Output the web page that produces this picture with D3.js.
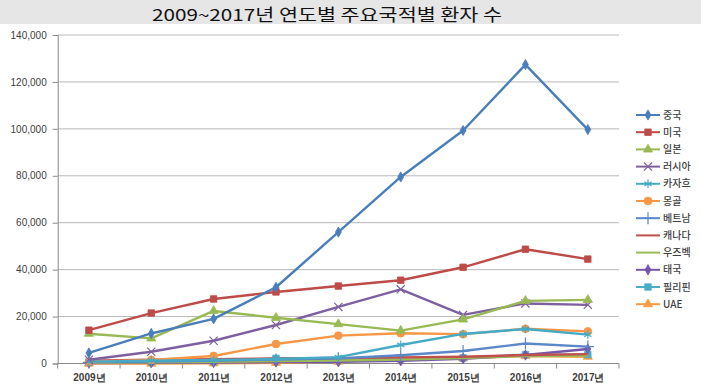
<!DOCTYPE html>
<html><head><meta charset="utf-8">
<script src="https://cdn.jsdelivr.net/npm/d3@7"></script>
<style>
html,body{margin:0;padding:0;background:#fff;}
svg{display:block;font-family:"Noto Sans CJK KR","Noto Sans",sans-serif;}
</style></head>
<body><svg id="c" width="701" height="389"></svg>
<script>
const title = "2009~2017년 연도별 주요국적별 환자 수";
const years = ["2009년","2010년","2011년","2012년","2013년","2014년","2015년","2016년","2017년"];
const yTicks = [0,20000,40000,60000,80000,100000,120000,140000];
const seriesNames = ["중국","미국","일본","러시아","카자흐","몽골","베트남","캐나다","우즈벡","태국","필리핀","UAE"];
const china      = [4500,12800,19000,32500,56000,79500,99300,127400,99700];
const usa        = [14200,21500,27500,30500,33000,35500,41000,48700,44500];
const japan      = [12700,10700,22400,19500,16800,14000,18800,26700,27100];
const russia     = [1600,5000,9700,16400,24100,31600,20700,25600,25000];
const kazakh     = [800,1200,1500,1900,2700,7900,12600,14700,12300];
const mongolia   = [800,1500,3200,8300,11900,12900,12500,14800,13700];
const vietnam    = [500,800,1200,1700,2200,3500,5300,8500,7200];
const canada     = [1200,1600,1800,2100,2300,2600,2900,3600,4000];
const uzbek      = [300,500,700,1000,1300,1700,2300,3200,3400];
const thailand   = [200,300,400,600,700,1100,2000,3600,6200];
const philippines= [600,800,900,2200,1600,2000,2400,3800,3800];
const uae        = [0,0,100,300,800,1800,2200,3200,2900];
const seriesValues = [china,usa,japan,russia,kazakh,mongolia,vietnam,canada,uzbek,thailand,philippines,uae];
const colors = ["#4A7EBB","#BE4B48","#98B954","#7D60A0","#46AAC5","#F79646","#5A88C8","#C0504D","#9BBB59","#7457A8","#4BACC6","#F59D45"];
const markers = ["diamond","square","triangle","x","asterisk","circle","plus",null,null,"diamond","square","triangle"];

const svg = d3.select("#c");
svg.append("rect").attr("x",0).attr("y",0).attr("width",701).attr("height",24).attr("fill","#e6e6e6");
svg.append("text").attr("x",327).attr("y",20.5).attr("text-anchor","middle")
  .attr("font-size",16.5).attr("fill","#111").attr("textLength",350).attr("lengthAdjust","spacingAndGlyphs").text(title);

const pL=57.7, pR=619, pT=35, pB=363.5;
const x = d3.scalePoint().domain(years).range([pL,pR]).padding(0.5);
const y = d3.scaleLinear().domain([0,140000]).range([pB,pT]);

svg.append("g").selectAll("line").data(yTicks.filter(d=>d>0)).join("line")
  .attr("x1",pL).attr("x2",pR).attr("y1",d=>y(d)).attr("y2",d=>y(d))
  .attr("stroke","#b8b8b8").attr("stroke-width",1);

const ya = svg.append("g").attr("transform",`translate(${pL},0)`)
  .call(d3.axisLeft(y).tickValues(yTicks).tickFormat(d3.format(",")).tickSize(5).tickPadding(6));
ya.select(".domain").attr("stroke","#8a8a8a");
ya.selectAll(".tick line").attr("stroke","#8a8a8a");
ya.selectAll("text").attr("font-size",10).attr("fill","#404040").attr("font-weight",500);

const band = (pR-pL)/years.length;
const xa = svg.append("g").attr("transform",`translate(0,${pB})`)
  .call(d3.axisBottom(x).tickSize(0).tickPadding(10));
xa.select(".domain").attr("stroke","#8a8a8a").attr("d",`M${pL},0H${pR}`);
xa.selectAll("text").attr("font-size",10).attr("fill","#404040").attr("font-weight",600);
svg.append("g").selectAll("line").data(d3.range(years.length+1)).join("line")
  .attr("x1",i=>pL+i*band).attr("x2",i=>pL+i*band).attr("y1",pB).attr("y2",pB+5)
  .attr("stroke","#8a8a8a");

const symMap = {diamond:d3.symbolDiamond, square:d3.symbolSquare, triangle:d3.symbolTriangle,
  x:d3.symbolX||d3.symbolTimes, asterisk:d3.symbolAsterisk, circle:d3.symbolCircle, plus:d3.symbolPlus};
const symSize = {diamond:30, square:42, triangle:36, x:45, asterisk:50, circle:48, plus:50};
const strokeSyms = new Set(["x","asterisk","plus"]);
function drawMarker(g, m, c, cx, cy){
  if(!m) return;
  const p = d3.symbol(symMap[m], symSize[m])();
  const el = g.append("path").attr("d",p).attr("transform",`translate(${cx},${cy})`);
  if(strokeSyms.has(m)) el.attr("fill","none").attr("stroke",c).attr("stroke-width",1.2);
  else el.attr("fill",c).attr("stroke",c).attr("stroke-width",0.8);
}

const line = d3.line().x((d,i)=>x(years[i])).y(d=>y(d));
const order = d3.range(seriesNames.length).reverse();
order.forEach(si=>{
  const g = svg.append("g");
  g.append("path").datum(seriesValues[si]).attr("d",line).attr("fill","none")
    .attr("stroke",colors[si]).attr("stroke-width",2.4).attr("stroke-linejoin","round");
  seriesValues[si].forEach((v,i)=>drawMarker(g,markers[si],colors[si],x(years[i]),y(v)));
});

const lg = svg.append("g");
seriesNames.forEach((n,i)=>{
  const cy = 115 + i*17.2;
  lg.append("line").attr("x1",636).attr("x2",660).attr("y1",cy).attr("y2",cy)
    .attr("stroke",colors[i]).attr("stroke-width",2);
  drawMarker(lg,markers[i],colors[i],648,cy);
  lg.append("text").attr("x",663).attr("y",cy+3.5).attr("font-size",10).attr("fill","#404040").attr("font-weight",500).text(n);
});
</script></body></html>
